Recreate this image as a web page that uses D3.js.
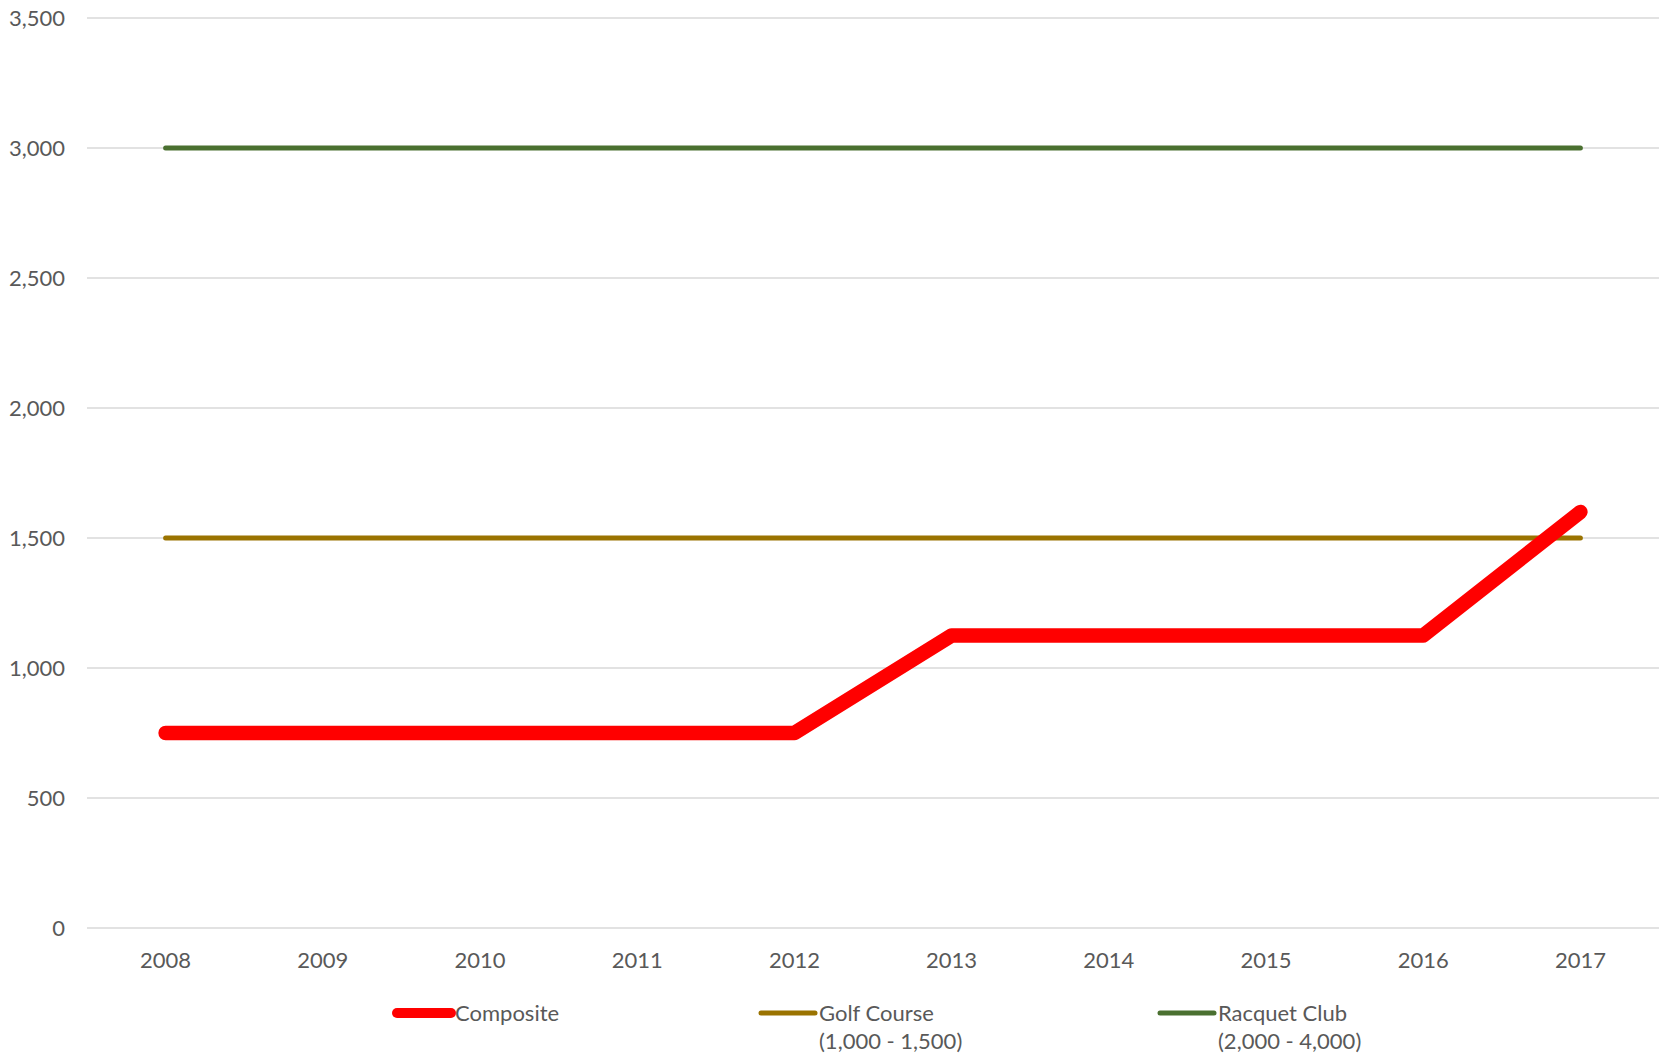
<!DOCTYPE html>
<html>
<head>
<meta charset="utf-8">
<script src="https://cdn.jsdelivr.net/npm/d3@7"></script>
<style>
  body { margin: 0; background: #fff; }
  text { font-family: Lato, "Open Sans", sans-serif; fill: #595959; }
</style>
</head>
<body>
<script>
var years = ["2008", "2009", "2010", "2011", "2012", "2013", "2014", "2015", "2016", "2017"];
var composite = [750, 750, 750, 750, 750, 1125, 1125, 1125, 1125, 1600];
var golfCourse = [1500, 1500, 1500, 1500, 1500, 1500, 1500, 1500, 1500, 1500];
var racquetClub = [3000, 3000, 3000, 3000, 3000, 3000, 3000, 3000, 3000, 3000];
var yTicks = [0, 500, 1000, 1500, 2000, 2500, 3000, 3500];

var series = [
  {name: ["Composite"], values: composite, color: "#ff0000", width: 14.5, legendWidth: 10},
  {name: ["Golf Course", "(1,000 - 1,500)"], values: golfCourse, color: "#9a7300", width: 5, legendWidth: 5},
  {name: ["Racquet Club", "(2,000 - 4,000)"], values: racquetClub, color: "#4a7030", width: 5, legendWidth: 5}
];

var W = 1663, H = 1057;
var margin = {top: 18, right: 4, bottom: 129, left: 87};
var w = W - margin.left - margin.right,
    h = H - margin.top - margin.bottom;

var svg = d3.select("body").append("svg")
    .attr("width", W)
    .attr("height", H);

var g = svg.append("g")
    .attr("transform", "translate(" + margin.left + "," + margin.top + ")");

var xScale = d3.scaleBand().domain(years).range([0, w]);
var yScale = d3.scaleLinear().domain([0, 3500]).range([h, 0]);

// gridlines
g.selectAll("line.grid")
    .data(yTicks)
  .enter().append("line")
    .attr("class", "grid")
    .attr("x1", 0)
    .attr("x2", w)
    .attr("y1", function(d) { return yScale(d); })
    .attr("y2", function(d) { return yScale(d); })
    .attr("stroke", "#d9d9d9")
    .attr("stroke-width", 1.5);

var yAxis = d3.axisLeft(yScale).tickValues(yTicks).tickFormat(d3.format(",")).tickSize(0).tickPadding(22);
var yg = g.append("g").call(yAxis);
yg.select(".domain").remove();
yg.selectAll("text").style("font-size", "22px").attr("fill", "#595959");

var xAxis = d3.axisBottom(xScale).tickSize(0).tickPadding(24);
var xg = g.append("g").attr("transform", "translate(0," + h + ")").call(xAxis);
xg.select(".domain").remove();
xg.selectAll("text").style("font-size", "22px").attr("fill", "#595959");

var line = d3.line()
    .x(function(d, i) { return xScale(years[i]) + xScale.bandwidth() / 2; })
    .y(function(d) { return yScale(d); });

// golf & racquet first, composite on top
[series[2], series[1], series[0]].forEach(function(s) {
  g.append("path")
      .datum(s.values)
      .attr("d", line)
      .attr("fill", "none")
      .attr("stroke", s.color)
      .attr("stroke-width", s.width)
      .attr("stroke-linecap", "round")
      .attr("stroke-linejoin", "round");
});

// legend
var legendX = [397, 761, 1160];
var legend = svg.selectAll("g.legend")
    .data(series)
  .enter().append("g")
    .attr("class", "legend")
    .attr("transform", function(d, i) { return "translate(" + legendX[i] + ",1013)"; });

legend.append("line")
    .attr("x1", 0)
    .attr("x2", 54)
    .attr("y1", 0)
    .attr("y2", 0)
    .attr("stroke", function(d) { return d.color; })
    .attr("stroke-width", function(d) { return d.legendWidth; })
    .attr("stroke-linecap", "round");

legend.each(function(d) {
  var t = d3.select(this).append("text")
      .attr("x", 58)
      .attr("y", 8)
      .style("font-size", "22px");
  d.name.forEach(function(n, j) {
    t.append("tspan")
        .attr("x", 58)
        .attr("dy", j === 0 ? 0 : 28)
        .text(n);
  });
});
</script>
</body>
</html>
